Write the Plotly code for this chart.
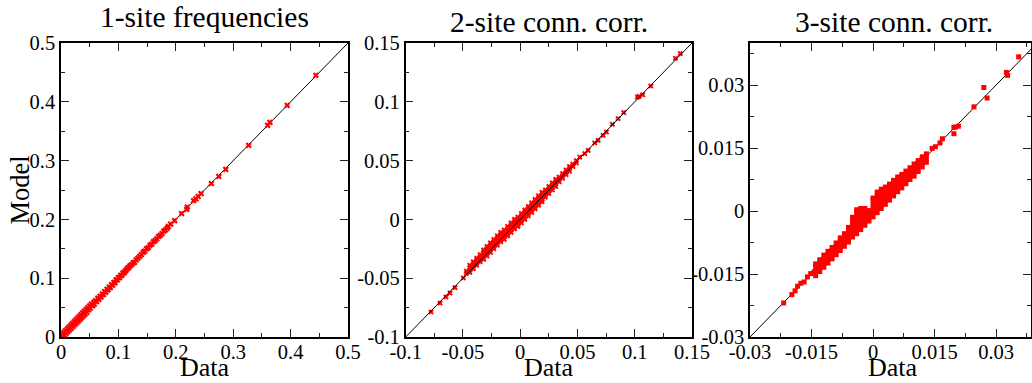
import plotly.graph_objects as go

# ---------------- data ----------------
# Panel 1: 1-site frequencies
p1_data = [0.000, 0.002, 0.003, 0.005, 0.006, 0.008, 0.009, 0.011, 0.012, 0.014,
           0.015, 0.017, 0.018, 0.020, 0.021, 0.023, 0.024, 0.026, 0.027, 0.029,
           0.030, 0.032, 0.033, 0.035, 0.036, 0.038, 0.039, 0.041, 0.042, 0.044,
           0.045, 0.047, 0.048, 0.050, 0.051, 0.053, 0.055, 0.057, 0.058, 0.060,
           0.062, 0.064, 0.066, 0.068, 0.070, 0.072, 0.074, 0.076, 0.078, 0.080,
           0.082, 0.084, 0.086, 0.088, 0.090, 0.092, 0.094, 0.096, 0.098, 0.100,
           0.102, 0.104, 0.106, 0.108, 0.110, 0.112, 0.114, 0.116, 0.118, 0.120,
           0.123, 0.126, 0.128, 0.131, 0.134, 0.137, 0.140, 0.143, 0.146, 0.149,
           0.152, 0.155, 0.158, 0.161, 0.164, 0.167, 0.170, 0.173, 0.176, 0.179,
           0.182, 0.185, 0.187,
           0.191, 0.198, 0.210, 0.219, 0.220, 0.231, 0.235, 0.239, 0.244, 0.262,
           0.275, 0.287, 0.327, 0.360, 0.364, 0.394, 0.444]
p1_model = [0.001, 0.005, 0.000, 0.008, 0.003, 0.011, 0.006, 0.014, 0.009, 0.017,
            0.012, 0.020, 0.015, 0.023, 0.018, 0.026, 0.021, 0.029, 0.024, 0.032,
            0.027, 0.035, 0.030, 0.038, 0.033, 0.041, 0.036, 0.044, 0.039, 0.047,
            0.042, 0.050, 0.046, 0.053, 0.049, 0.056, 0.053, 0.059, 0.056, 0.062,
            0.060, 0.066, 0.064, 0.069, 0.068, 0.073, 0.072, 0.077, 0.076, 0.081,
            0.080, 0.085, 0.084, 0.089, 0.088, 0.093, 0.092, 0.097, 0.097, 0.101,
            0.101, 0.105, 0.105, 0.109, 0.109, 0.112, 0.114, 0.117, 0.118, 0.121,
            0.123, 0.126, 0.127, 0.131, 0.134, 0.137, 0.140, 0.144, 0.146, 0.150,
            0.152, 0.156, 0.158, 0.162, 0.164, 0.167, 0.171, 0.173, 0.176, 0.180,
            0.182, 0.185, 0.188,
            0.192, 0.198, 0.210, 0.217, 0.221, 0.232, 0.235, 0.239, 0.244, 0.261,
            0.273, 0.285, 0.326, 0.360, 0.365, 0.394, 0.445]

# Panel 2: 2-site connected correlations (dense band columns + sparse points)
p2_band_data = [-0.047, -0.044, -0.041, -0.038, -0.035, -0.032, -0.029, -0.026, -0.023,
                -0.020, -0.017, -0.014, -0.011, -0.008, -0.005, -0.002, 0.001, 0.004,
                0.007, 0.010, 0.013, 0.016, 0.019, 0.022, 0.025, 0.028, 0.031, 0.034,
                0.037, 0.040, 0.043, 0.046, 0.049]
p2_band_model = [[-0.046, -0.044], [-0.045, -0.043, -0.041, -0.039], [-0.042, -0.040, -0.038, -0.036],
                 [-0.039, -0.037, -0.035, -0.033], [-0.036, -0.034, -0.032, -0.030],
                 [-0.034, -0.032, -0.030, -0.028, -0.026], [-0.031, -0.029, -0.027, -0.025, -0.023],
                 [-0.028, -0.026, -0.024, -0.022, -0.020], [-0.025, -0.023, -0.021, -0.019, -0.017],
                 [-0.022, -0.020, -0.018, -0.016, -0.014], [-0.019, -0.017, -0.015, -0.013, -0.011],
                 [-0.017, -0.015, -0.013, -0.011, -0.009], [-0.014, -0.012, -0.010, -0.008, -0.006],
                 [-0.011, -0.009, -0.007, -0.005, -0.003], [-0.008, -0.006, -0.004, -0.002, 0.000],
                 [-0.006, -0.004, -0.002, 0.000, 0.002], [-0.003, -0.001, 0.001, 0.003, 0.005],
                 [0.000, 0.002, 0.004, 0.006, 0.008], [0.003, 0.005, 0.007, 0.009, 0.011],
                 [0.006, 0.008, 0.010, 0.012, 0.014], [0.009, 0.011, 0.013, 0.015, 0.017],
                 [0.012, 0.014, 0.016, 0.018, 0.020], [0.015, 0.017, 0.019, 0.021, 0.023],
                 [0.019, 0.021, 0.023, 0.025], [0.022, 0.024, 0.026, 0.028],
                 [0.025, 0.027, 0.029, 0.031], [0.028, 0.030, 0.032, 0.034],
                 [0.032, 0.034, 0.036], [0.035, 0.037, 0.039], [0.038, 0.040, 0.042],
                 [0.041, 0.043, 0.045], [0.045, 0.047], [0.048, 0.050]]
p2_data = [-0.0779, -0.0700, -0.0648, -0.0613, -0.0570, -0.0497, 0.0520, 0.0564, 0.0593,
           0.0651, 0.0680, 0.0724, 0.0753, 0.0805, 0.0855, 0.0904, 0.1023, 0.1038, 0.1070,
           0.1140, 0.1355, 0.1398]
p2_model = [-0.0787, -0.0711, -0.0660, -0.0626, -0.0580, -0.0498, 0.0530, 0.0559, 0.0587,
            0.0650, 0.0672, 0.0715, 0.0743, 0.0808, 0.0857, 0.0908, 0.1040, 0.1046, 0.1060,
            0.1134, 0.1370, 0.1410]

# Panel 3: 3-site connected correlations (dense band columns + sparse points)
p3_band_data = [-0.014, -0.013, -0.012, -0.011, -0.010, -0.009, -0.008, -0.007, -0.006,
                -0.005, -0.004, -0.003, -0.002, -0.001, 0.000, 0.001, 0.002, 0.003, 0.004,
                0.005, 0.006, 0.007, 0.008, 0.009, 0.010, 0.011, 0.012, 0.013]
p3_band_model = [[-0.0154, -0.0144, -0.0134, -0.0126],
                 [-0.0144, -0.0134, -0.0124, -0.0116],
                 [-0.0134, -0.0124, -0.0114, -0.0105],
                 [-0.0124, -0.0114, -0.0104, -0.0096],
                 [-0.0114, -0.0104, -0.0094, -0.0087],
                 [-0.0104, -0.0094, -0.0084, -0.0076],
                 [-0.0094, -0.0084, -0.0074, -0.0064],
                 [-0.0084, -0.0074, -0.0064, -0.0054],
                 [-0.0074, -0.0064, -0.0054, -0.0044, -0.0039],
                 [-0.0062, -0.0052, -0.0042, -0.0032, -0.0022, -0.0015],
                 [-0.0054, -0.0044, -0.0034, -0.0024, -0.0014, -0.0004, 0.0003],
                 [-0.0044, -0.0034, -0.0024, -0.0014, -0.0004, 0.0006],
                 [-0.0034, -0.0024, -0.0014, -0.0004, 0.0006],
                 [-0.0024, -0.0014, -0.0004, 0.0001],
                 [-0.0014, -0.0004, 0.0006, 0.0016, 0.0026, 0.0031],
                 [-0.0004, 0.0006, 0.0016, 0.0026, 0.0036, 0.0045],
                 [0.0006, 0.0016, 0.0026, 0.0036, 0.0046, 0.0052],
                 [0.0016, 0.0026, 0.0036, 0.0046, 0.0057],
                 [0.0026, 0.0036, 0.0046, 0.0056, 0.0064],
                 [0.0036, 0.0046, 0.0056, 0.0066, 0.0073],
                 [0.0046, 0.0056, 0.0066, 0.0076, 0.0081],
                 [0.0055, 0.0065, 0.0075, 0.0087],
                 [0.0065, 0.0075, 0.0085, 0.0095],
                 [0.0075, 0.0085, 0.0095, 0.0103],
                 [0.0083, 0.0093, 0.0103, 0.0112],
                 [0.0094, 0.0104, 0.0114, 0.0120],
                 [0.0105, 0.0115, 0.0125, 0.0129],
                 [0.0116, 0.0126, 0.0136]]
p3_data = [-0.0218, -0.0198, -0.0190, -0.0184, -0.0176, -0.0168, -0.0160, -0.0152, -0.0144,
           0.0144, 0.0152, 0.0163, 0.0169, 0.0197, 0.0197, 0.0201, 0.0208, 0.0246, 0.0270,
           0.0278, 0.0325, 0.0328, 0.0355]
p3_model = [-0.0219, -0.0199, -0.0190, -0.0179, -0.0172, -0.0169, -0.0157, -0.0149, -0.0145,
            0.0149, 0.0153, 0.0162, 0.0172, 0.0199, 0.0184, 0.0200, 0.0202, 0.0248, 0.0294,
            0.0269, 0.0330, 0.0323, 0.0367]

# identity (y = x) reference lines, axis ranges, ticks
p1_range = [0.0, 0.5]
p2_range = [-0.1, 0.15]
p3_xrange = [-0.03, 0.0385]
p3_yrange = [-0.03, 0.04]
p1_ticks = [0, 0.1, 0.2, 0.3, 0.4, 0.5]
p1_labels = ["0", "0.1", "0.2", "0.3", "0.4", "0.5"]
p2_ticks = [-0.1, -0.05, 0, 0.05, 0.1, 0.15]
p2_labels = ["-0.1", "-0.05", "0", "0.05", "0.1", "0.15"]
p3_ticks = [-0.03, -0.015, 0, 0.015, 0.03]
p3_labels = ["-0.03", "-0.015", "0", "0.015", "0.03"]
titles = ["1-site frequencies", "2-site conn. corr.", "3-site conn. corr."]
x_title = "Data"
y_title = "Model"


def flatten(cols, rows):
    xs, ys = [], []
    for c, r in zip(cols, rows):
        for v in r:
            xs.append(c)
            ys.append(v)
    return xs, ys


b2x, b2y = flatten(p2_band_data, p2_band_model)
b3x, b3y = flatten(p3_band_data, p3_band_model)

RED = "#ff0000"
FONT = "Liberation Serif"
W, H = 1032, 383

fig = go.Figure()

# panel 1
fig.add_trace(go.Scatter(x=p1_range, y=p1_range, mode="lines",
                         line=dict(color="black", width=1), xaxis="x", yaxis="y",
                         showlegend=False, hoverinfo="skip"))
fig.add_trace(go.Scatter(x=p1_data, y=p1_model, mode="markers", xaxis="x", yaxis="y",
                         marker=dict(symbol="x", size=5.5, color=RED, line=dict(width=0)),
                         showlegend=False))
# panel 2
fig.add_trace(go.Scatter(x=b2x + p2_data, y=b2y + p2_model, mode="markers",
                         xaxis="x2", yaxis="y2",
                         marker=dict(symbol="x", size=5, color=RED, line=dict(width=0)),
                         showlegend=False))
fig.add_trace(go.Scatter(x=p2_range, y=p2_range, mode="lines",
                         line=dict(color="black", width=1), xaxis="x2", yaxis="y2",
                         showlegend=False, hoverinfo="skip"))
# panel 3
fig.add_trace(go.Scatter(x=p3_yrange, y=p3_yrange, mode="lines",
                         line=dict(color="black", width=1), xaxis="x3", yaxis="y3",
                         showlegend=False, hoverinfo="skip"))
fig.add_trace(go.Scatter(x=b3x + p3_data, y=b3y + p3_model, mode="markers",
                         xaxis="x3", yaxis="y3",
                         marker=dict(symbol="square", size=5, color=RED, line=dict(width=0)),
                         showlegend=False))


def axis(rng, ticks, labels, minor_dtick, minor_tick0, domain, anchor, standoff):
    return dict(
        range=rng, domain=domain, anchor=anchor, automargin=False,
        tickmode="array", tickvals=ticks, ticktext=labels,
        showline=True, linecolor="black", linewidth=1.5, mirror="ticks",
        ticks="inside", ticklen=8, tickwidth=1.3, tickcolor="#222",
        minor=dict(ticks="inside", ticklen=4, tickwidth=1.3, tickcolor="#222",
                   dtick=minor_dtick, tick0=minor_tick0, showgrid=False),
        showgrid=False, zeroline=False, ticklabelstandoff=standoff,
        tickfont=dict(family=FONT, size=20.5, color="black"),
    )


ydom = [(H - 337) / H, (H - 43) / H]
fig.update_layout(
    width=W, height=H, margin=dict(l=0, r=0, t=0, b=0, autoexpand=False),
    paper_bgcolor="white", plot_bgcolor="white",
    xaxis=axis(p1_range, p1_ticks, p1_labels, 0.05, 0, [61 / W, 348 / W], "y", -4),
    yaxis=axis(p1_range, p1_ticks, p1_labels, 0.05, 0, ydom, "x", 0),
    xaxis2=axis(p2_range, p2_ticks, p2_labels, 0.025, 0, [405.7 / W, 692 / W], "y2", -4),
    yaxis2=axis(p2_range, p2_ticks, p2_labels, 0.025, 0, ydom, "x2", 0),
    xaxis3=axis(p3_xrange, p3_ticks, p3_labels, 0.0075, 0, [750 / W, 1031 / W], "y3", -4),
    yaxis3=axis(p3_yrange, p3_ticks, p3_labels, 0.0075, 0, ydom, "x3", 0),
)

ann = []
title_x = [204.5, 549, 894]
title_y = [16.5, 21.5, 21.5]
data_x = [205, 548.5, 893]
for t, tx, ty, dx in zip(titles, title_x, title_y, data_x):
    ann.append(dict(text=t, x=tx / W, y=(H - ty) / H, xref="paper", yref="paper",
                    xanchor="center", yanchor="middle", showarrow=False,
                    font=dict(family=FONT, size=29.5, color="black")))
    ann.append(dict(text=x_title, x=dx / W, y=0, xref="paper", yref="paper",
                    xanchor="center", yanchor="bottom", showarrow=False, borderpad=0,
                    font=dict(family=FONT, size=26, color="black")))
ann.append(dict(text=y_title, x=19.6 / W, y=(H - 190) / H, xref="paper", yref="paper",
                xanchor="center", yanchor="middle", showarrow=False, textangle=-90,
                font=dict(family=FONT, size=26.5, color="black")))
fig.update_layout(annotations=ann)

fig.write_html("out.html")
